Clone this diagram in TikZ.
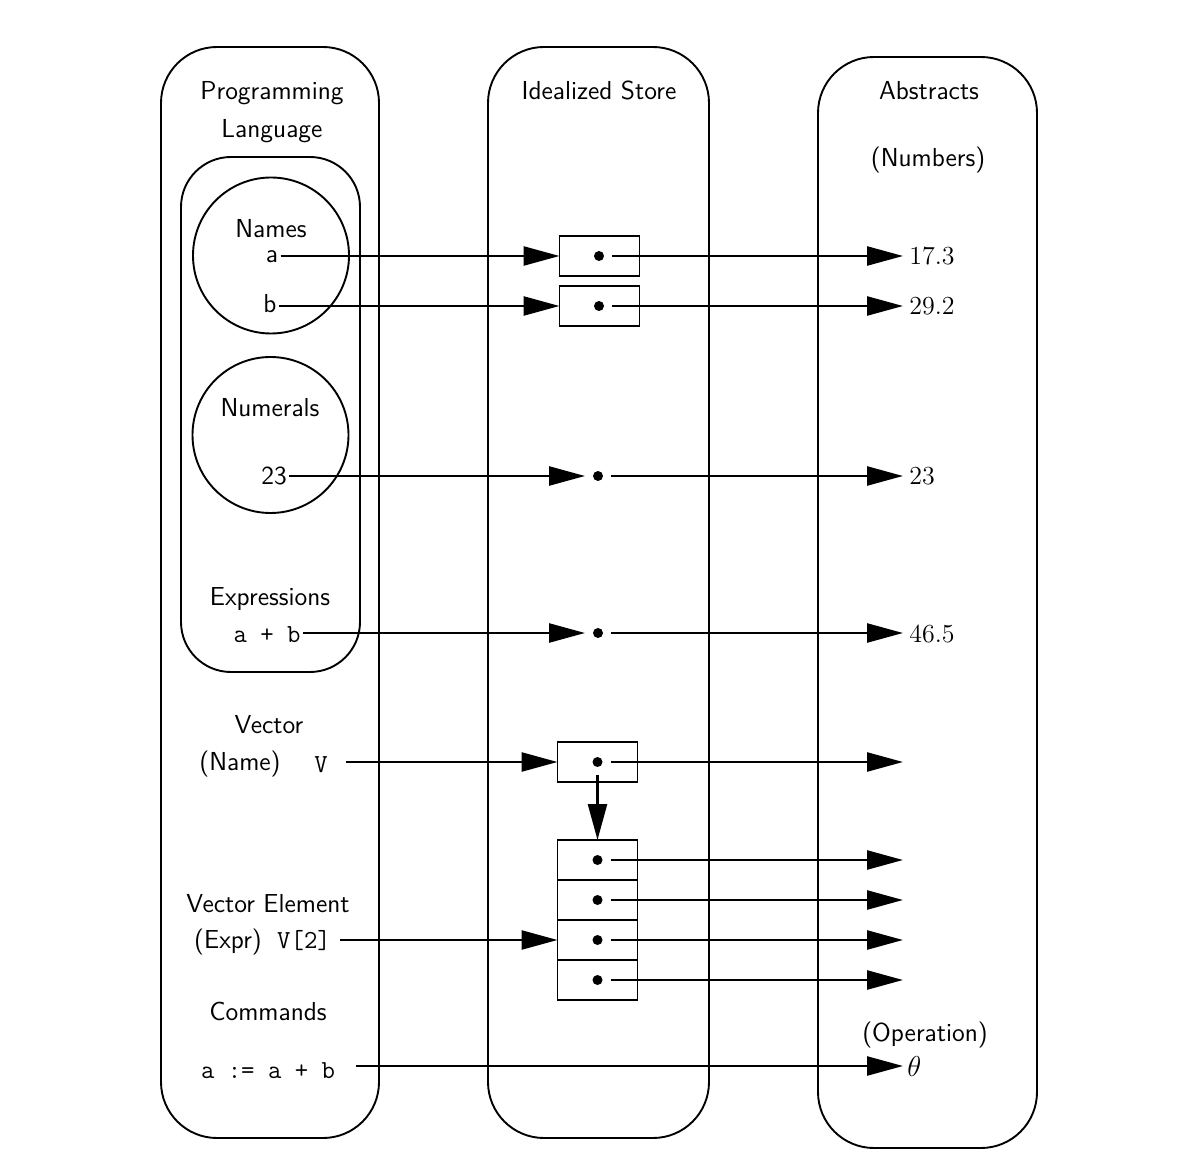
\documentclass[tikz,border=0pt]{standalone}
\usetikzlibrary{arrows.meta}
\begin{document}
\begin{tikzpicture}[x=0.5pt,y=-0.5pt,
  every node/.style={font=\fontsize{13}{15}\selectfont\sffamily, inner sep=1pt},
  lbl/.style={anchor=base},
  tt/.style={anchor=base, font=\fontsize{13}{15}\selectfont\ttfamily},
  num/.style={anchor=base west, inner xsep=3pt, font=\fontsize{13}{15}\selectfont\rmfamily},
  frame/.style={draw, line width=0.95pt, rounded corners=28pt},
  inframe/.style={draw, line width=0.95pt, rounded corners=25pt},
  ring/.style={draw, line width=0.95pt},
  arr/.style={-{Triangle[length=18pt,width=9.5pt]}, line width=1.25pt},
  cell/.style={draw, line width=0.95pt, minimum width=40pt, minimum height=20pt, inner sep=0pt, outer sep=0pt},
  dot/.style={circle, fill, inner sep=0pt, minimum size=5pt, outer sep=4pt}]

\useasboundingbox (0,0) rectangle (1193,1165);

% column frames
\draw[frame] (161,47) rectangle (379,1138);
\draw[frame] (488,47) rectangle (709,1138);
\draw[frame] (818,57) rectangle (1037,1148);
\draw[inframe] (181,157) rectangle (360,672);
\draw[ring] (271,255.5) circle[radius=39pt];
\draw[ring] (270.5,435) circle[radius=39pt];

% headings
\node[lbl] (tP) at (272,100) {Programming};
\node[lbl] (tL) at (272,138) {Language};
\node[lbl] (tIS) at (599,100) {Idealized Store};
\node[lbl] (tAb) at (929,100) {Abstracts};
\node[lbl] (tNum) at (928,167) {(Numbers)};

% left texts
\node[lbl] (tNames) at (271,238) {Names};
\node[lbl] (na) at (272,263) {a};
\node[lbl] (nb) at (270,313) {b};
\node[lbl] (tNumerals) at (270,417) {Numerals};
\node[lbl] (n23) at (274,485) {23};
\node[lbl] (tExpr) at (270,605) {Expressions};
\node[tt] (nab) at (267,642) {a + b};
\node[lbl] (tVec) at (269,733) {Vector};
\node[lbl] (tName) at (240,770) {(Name)};
\node[tt] (nV) at (321,772) {V};
\node[lbl] (tVE) at (268,912) {Vector Element};
\node[lbl] (tEx) at (228,948) {(Expr)};
\node[tt] (nV2) at (304,948) {V[2]};
\node[lbl] (tCmd) at (268,1020) {Commands};
\node[tt] (ncmd) at (268,1078) {a := a + b};

% right texts
\node[num] (n17) at (903,265) {17.3};
\node[num] (n29) at (903,315) {29.2};
\node[num] (n23r) at (903,485) {23};
\node[num] (n465) at (903,642) {46.5};
\node[lbl] (tOp) at (925,1041) {(Operation)};
\node[anchor=base west, inner xsep=2pt, font=\fontsize{14.4}{16}\selectfont] (nth) at (903,1076) {$\theta$};

% store cells and dots
\node[cell] (bA) at (599.5,256) {};
\node[cell] (bB) at (599.5,306) {};
\node[cell] (bV) at (597.5,762) {};
\node[cell] (c1) at (597.5,860) {};
\node[cell] (c2) at (597.5,900) {};
\node[cell] (c3) at (597.5,940) {};
\node[cell] (c4) at (597.5,980) {};
\node[dot] (dA) at (599,256) {};
\node[dot] (dB) at (599,306) {};
\node[dot] (d23) at (598,476) {};
\node[dot] (dAB) at (598,633) {};
\node[dot] (dV) at (597.5,762) {};
\node[dot] (dc1) at (597.5,860) {};
\node[dot] (dc2) at (597.5,900) {};
\node[dot] (dc3) at (597.5,940) {};
\node[dot] (dc4) at (597.5,980) {};

% free ends
\coordinate (rV) at (903,762);
\coordinate (r1) at (903,860);
\coordinate (r2) at (903,900);
\coordinate (r3) at (903,940);
\coordinate (r4) at (903,980);

% connectors: language -> store
\draw[arr] (bA.west -| na.east) -- (bA.west);
\draw[arr] (bB.west -| nb.east) -- (bB.west);
\draw[arr] (d23 -| n23.east) -- (d23);
\draw[arr] (dAB -| nab.east) -- (dAB);
\draw[arr, shorten <=8pt] (bV.west -| nV.east) -- (bV.west);
\draw[arr, shorten <=3.5pt] (c3.west -| nV2.east) -- (c3.west);
\draw[arr, shorten <=9.5pt] (nth.west -| ncmd.east) -- (nth.west);

% store -> abstracts
\draw[arr] (dA) -- (dA -| n17.west);
\draw[arr] (dB) -- (dB -| n29.west);
\draw[arr] (d23) -- (d23 -| n23r.west);
\draw[arr] (dAB) -- (dAB -| n465.west);
\draw[arr] (dV) -- (rV);
\draw[arr] (dV) -- (c1.north);
\draw[arr] (dc1) -- (r1);
\draw[arr] (dc2) -- (r2);
\draw[arr] (dc3) -- (r3);
\draw[arr] (dc4) -- (r4);
\end{tikzpicture}
\end{document}
